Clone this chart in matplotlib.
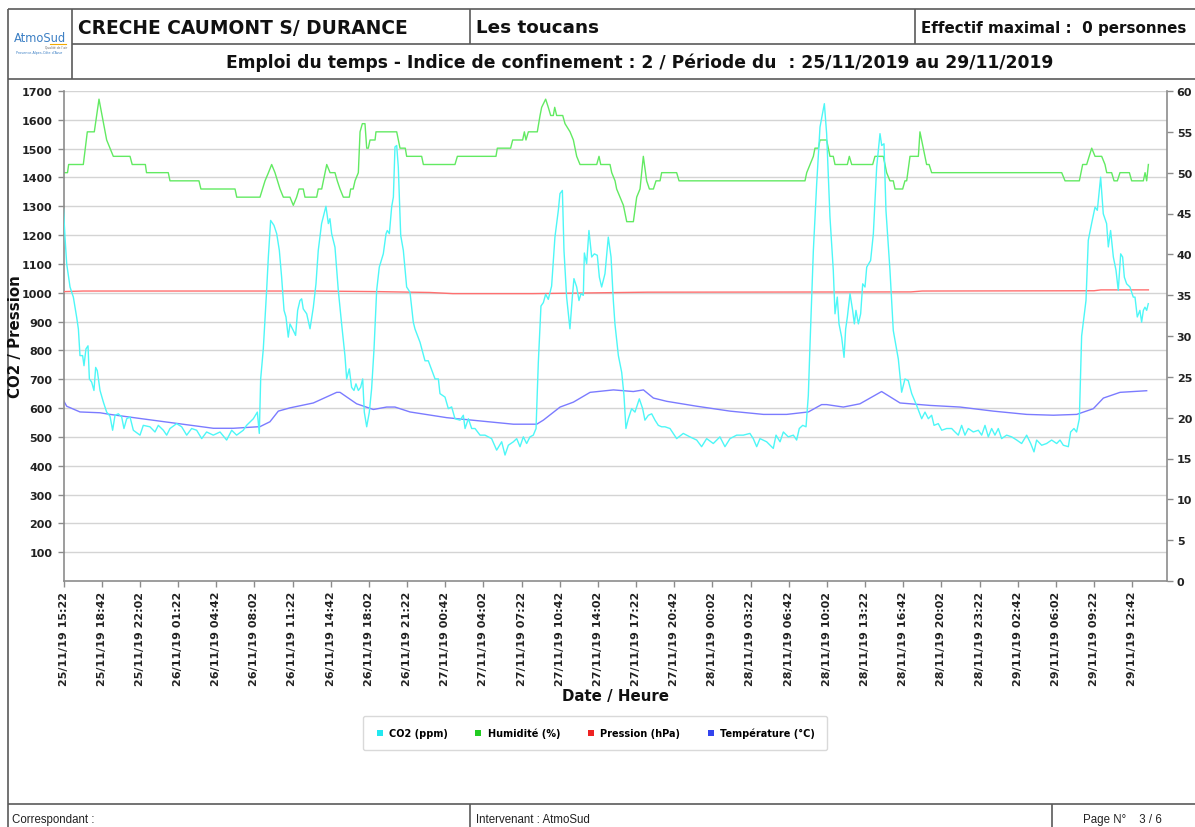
import matplotlib
matplotlib.use("Agg")
import matplotlib.pyplot as plt
from matplotlib.lines import Line2D
import pandas as pd

# ---------------- data (hours since 25/11/19 15:22) ----------------
start_time = "25/11/19 15:22"
tick_labels = ["25/11/19 15:22", "25/11/19 18:42", "25/11/19 22:02", "26/11/19 01:22",
               "26/11/19 04:42", "26/11/19 08:02", "26/11/19 11:22", "26/11/19 14:42",
               "26/11/19 18:02", "26/11/19 21:22", "27/11/19 00:42", "27/11/19 04:02",
               "27/11/19 07:22", "27/11/19 10:42", "27/11/19 14:02", "27/11/19 17:22",
               "27/11/19 20:42", "28/11/19 00:02", "28/11/19 03:22", "28/11/19 06:42",
               "28/11/19 10:02", "28/11/19 13:22", "28/11/19 16:42", "28/11/19 20:02",
               "28/11/19 23:22", "29/11/19 02:42", "29/11/19 06:02", "29/11/19 09:22",
               "29/11/19 12:42"]

co2_h = [0, 0.13, 0.28, 0.57, 0.86, 1.15, 1.30, 1.44, 1.67, 1.79, 1.96, 2.14, 2.26, 2.46, 2.66, 2.81,
         2.95, 3.19, 3.48, 3.77, 4.06, 4.29, 4.50, 4.79, 5.08, 5.28, 5.52, 5.81, 6.10, 6.68, 6.97, 7.55,
         7.99, 8.28, 8.72, 9.01, 9.30, 9.88, 10.32, 10.76, 11.19, 11.63, 12.07, 12.50, 13.08, 13.67,
         14.25, 14.69, 15.12, 15.70, 15.99, 16.58, 16.93, 17.10, 17.22, 17.45, 17.74, 17.89, 18.09,
         18.38, 18.62, 18.85, 19.05, 19.26, 19.43, 19.63, 19.78, 20.07, 20.27, 20.45, 20.65, 20.80,
         20.94, 21.24, 21.53, 21.82, 22.05, 22.25, 22.54, 22.92, 23.13, 23.27, 23.42, 23.71, 24.00,
         24.29, 24.58, 24.73, 24.96, 25.16, 25.37, 25.54, 25.75, 25.95, 26.13, 26.27, 26.48, 26.71,
         26.91, 27.12, 27.35, 27.58,
         27.93, 28.17, 28.28, 28.46, 28.66, 28.81, 28.95, 29.10, 29.24, 29.45, 29.68, 29.97, 30.26,
         30.55, 30.70, 31.14, 31.57, 31.86, 32.45, 32.74, 32.88, 33.32, 33.61, 33.90, 34.19, 34.63,
         34.92, 35.07, 35.36, 35.65, 35.94, 36.38, 36.81, 37.39, 37.83, 38.27, 38.56, 38.85, 39.29,
         39.58, 39.87, 40.16, 40.45, 40.74, 41.03, 41.27, 41.47, 41.70, 41.91, 42.11, 42.34, 42.63,
         42.92, 43.22, 43.36, 43.57, 43.71, 43.94, 44.23, 44.44, 44.58, 44.82, 45.02, 45.20, 45.40,
         45.49, 45.69, 45.89, 46.13, 46.36, 46.62, 46.80, 47.00, 47.29, 47.58, 47.82, 48.02, 48.16,
         48.46, 48.75, 48.95, 49.12, 49.33, 49.62, 49.91, 50.29, 50.58, 50.78, 51.08, 51.37, 51.66,
         51.95, 52.24, 52.53, 52.97, 53.55, 54.13, 54.71, 55.30, 55.73, 56.17, 56.75, 57.33, 57.77,
         58.21, 58.79, 59.37, 59.95, 60.24, 60.54,
         60.83, 61.41, 61.99, 62.23, 62.58, 62.87, 63.30, 63.74, 64.03, 64.26, 64.56, 64.85, 65.05,
         65.20, 65.49, 65.78, 66.07, 66.45, 66.65, 66.94, 67.23, 67.38, 67.58, 67.73, 67.96, 68.17,
         68.31, 68.46, 68.69, 68.92, 69.07, 69.21, 69.42, 69.62, 69.80, 70.00, 70.15, 70.49, 70.73,
         71.02, 71.31, 71.46, 71.66, 71.83, 72.18, 72.47, 72.91, 73.20, 73.49, 73.78, 74.08, 74.51,
         74.95, 75.24, 75.53, 75.82, 76.03, 76.40, 76.70, 77.13, 77.57, 77.86, 78.15, 78.44, 78.73,
         79.02, 79.46, 79.90, 80.19, 80.48, 80.77, 81.06, 81.35, 81.64, 81.93, 82.37, 82.81, 83.25,
         83.68, 84.12, 84.47, 84.76, 84.99, 85.43, 85.86, 86.30, 86.74, 87.03, 87.32, 87.76, 87.96,
         88.25, 88.48, 88.72, 88.92, 89.30, 89.50, 89.79, 90.09, 90.29, 90.58, 90.81, 91.10, 91.25,
         91.45, 91.69, 91.92, 92.12, 92.33, 92.50, 92.65, 92.85, 93.14, 93.43, 93.58, 93.78, 94.01,
         94.16, 94.31, 94.45, 94.60, 94.74]
co2_v = [1290, 1193, 1100, 1020, 985, 915, 874, 782, 782, 747, 805, 816, 701, 690, 661, 741,
         730, 661, 621, 586, 572, 523, 575, 580, 569, 529, 563, 569, 523, 506, 540, 535,
         517, 540, 523, 506, 529, 546, 535, 506, 529, 523, 494, 517, 506, 517,
         489, 523, 506, 523, 540, 563, 586, 512, 701, 805, 1008, 1124, 1251,
         1234, 1205, 1147, 1054, 939, 916, 846, 892, 869, 852, 939, 973, 979,
         944, 927, 875, 950, 1031, 1147, 1240, 1300, 1240, 1257, 1205, 1158, 1008,
         892, 782, 701, 736, 672, 661, 684, 661, 672, 701, 586, 535, 586,
         667, 805, 1008, 1089,
         1135, 1205, 1216, 1205, 1298, 1332, 1506, 1511, 1436, 1199, 1147, 1020, 1002,
         898, 874, 828, 764, 764, 701, 701, 650, 638, 598, 604, 563, 558,
         575, 529, 563, 529, 529, 506, 506, 494, 454, 483, 437, 471, 483,
         494, 466, 500, 477, 500, 506, 529, 759, 954, 966, 995, 977, 1023,
         1193, 1287, 1344, 1355, 1147, 985, 875, 985, 1049, 1020, 973, 997, 991,
         1138, 1101, 1216, 1124, 1135, 1130, 1054, 1020, 1066, 1193, 1124, 973, 892,
         782, 724, 644, 529, 563, 598, 586, 632, 598, 558, 575, 580, 558,
         540, 535, 535, 529, 494, 512, 500, 489, 466, 494, 477, 500, 466,
         494, 506, 506, 512, 494, 466,
         494, 483, 460, 506, 483, 517, 500, 506, 489, 529, 540, 535, 644,
         823, 1147, 1378, 1575, 1656, 1552, 1263, 1078, 927, 985, 892, 846, 776,
         874, 916, 997, 939, 892, 939, 892, 927, 1031, 1020, 1089, 1112, 1205,
         1436, 1552, 1511, 1517, 1286, 1078, 869, 770, 655, 701, 695, 650, 609,
         563, 586, 563, 575, 540, 546, 523, 529, 529, 517, 506, 540, 506,
         529, 517, 523, 506, 540, 500, 529, 506, 529, 494, 506, 500, 489,
         477, 506, 477, 448, 489, 471, 477, 489, 477, 489, 471, 466, 517,
         529, 517, 563, 850, 973, 1182, 1240, 1297, 1286, 1401, 1274, 1240, 1159,
         1216, 1124, 1078, 1008, 1135, 1124, 1054, 1031, 1020, 985, 985, 916, 939,
         898, 939, 950, 939, 962]

hum_h = [0, 0.35, 0.45, 1.73, 2.08, 2.69, 3.10, 3.77, 4.06, 4.35, 5.81, 6.00, 7.15, 7.25, 9.15, 9.30,
         11.83, 12.00, 14.98, 15.13, 17.16, 17.60, 17.90, 18.18, 18.47, 18.91, 19.20, 19.78, 20.07,
         20.36, 20.57, 20.94, 21.09, 22.11, 22.25, 22.55, 22.84, 22.99, 23.28, 23.71, 23.91, 24.15,
         24.44, 24.96, 25.08, 25.30, 25.46, 25.75, 25.90, 26.10, 26.33, 26.48, 26.62, 26.77, 27.21,
         27.29, 29.10, 29.39, 29.85, 29.97, 31.28, 31.43, 34.19, 34.40, 37.77, 37.89, 39.05, 39.23,
         40.10, 40.25, 40.39, 40.60, 41.38, 41.62, 41.76, 42.11, 42.34, 42.55, 42.78, 42.90, 43.07,
         43.60, 43.80, 44.24, 44.53, 44.82, 45.11, 46.57, 46.77, 46.92, 47.73, 47.88, 48.17, 48.31,
         48.60, 48.90, 49.19, 49.77, 50.06, 50.35, 50.64, 50.93, 51.17, 51.52, 51.75, 52.10, 52.24,
         53.55, 53.76, 64.76, 64.91, 65.20, 65.49, 65.63, 65.93, 66.07, 66.65, 66.94, 67.23, 67.38,
         68.46, 68.63, 68.84, 70.67, 70.87, 71.60, 71.89, 72.18, 72.47, 72.62, 73.29, 73.49, 73.64,
         73.93, 74.66, 74.80, 75.09, 75.38, 75.60, 75.82, 87.18, 87.47, 88.72, 89.01, 89.36, 89.80,
         90.09, 90.67, 90.96, 91.11, 91.54, 91.75, 92.04, 92.27, 93.09, 93.29, 94.31, 94.46, 94.60,
         94.75]
hum_v = [50, 50, 51, 51, 55, 55, 59, 54, 53, 52, 52, 51, 51, 50, 50, 49,
         49, 48, 48, 47, 47, 49, 50, 51, 50, 48, 47, 47, 46,
         47, 48, 48, 47, 47, 48, 48, 50, 51, 50, 50, 49, 48,
         47, 47, 48, 48, 49, 50, 55, 56, 56, 53, 53, 54, 54,
         55, 55, 53, 53, 52, 52, 51, 51, 52, 52, 53, 53, 54,
         54, 55, 54, 55, 55, 57, 58, 59, 58, 57, 57, 58, 57,
         57, 56, 55, 54, 52, 51, 51, 52, 51, 51, 50, 49, 48,
         47, 46, 44, 44, 47, 48, 52, 49, 48, 48, 49, 49, 50,
         50, 49, 49, 50, 51, 52, 53, 53, 54, 54, 52, 52, 51,
         51, 52, 51, 51, 52, 52, 50, 49, 49, 48, 48, 49, 49,
         52, 52, 55, 53, 51, 51, 50, 50, 49, 49, 51, 51, 53,
         52, 52, 51, 50, 50, 49, 49, 50, 50, 49, 49, 50, 49,
         51]

temp_h = [0, 0.28, 1.44, 3.19, 4.06, 6.68, 9.88, 13.09, 14.83, 17.16, 18.03, 18.76, 19.78, 21.82,
          23.86, 24.15, 25.60, 27.06, 28.22, 28.95, 30.26, 33.47, 36.38, 39.29, 41.33, 41.91, 43.37,
          44.53, 45.99, 48.03, 49.77, 50.65, 51.52, 52.69, 55.31, 58.22, 61.13, 63.16, 65.05, 66.21,
          66.65, 68.11, 69.56, 71.45, 73.06, 75.68, 78.30, 81.21, 84.12, 86.45, 88.49, 89.94, 90.82,
          92.27, 94.60]
temp_v = [22.1, 21.4, 20.7, 20.6, 20.4, 19.9, 19.3, 18.7, 18.7, 18.9, 19.5, 20.8, 21.2, 21.8,
          23.1, 23.1, 21.7, 21.0, 21.3, 21.3, 20.7, 20.0, 19.6, 19.2, 19.2, 19.7, 21.3,
          21.9, 23.1, 23.4, 23.2, 23.4, 22.4, 22.0, 21.4, 20.8, 20.4, 20.4, 20.7, 21.6,
          21.6, 21.3, 21.7, 23.2, 21.8, 21.5, 21.3, 20.8, 20.4, 20.3, 20.4, 21.1, 22.4,
          23.1, 23.3]

pres_h = [0, 1.7, 22, 27.5, 32, 34, 41, 45, 51, 74, 75, 90, 90.6, 94.75]
pres_v = [1004, 1006, 1006, 1004, 1001, 997, 997, 999, 1002, 1003, 1006, 1007, 1010, 1010]

series_names = ["CO2 (ppm)", "Humidité (%)", "Pression (hPa)", "Température (°C)"]
line_colors = ["#4df7f7", "#62ea62", "#ff7070", "#7b7bff"]
legend_colors = ["#22e8f0", "#22cc22", "#ee2222", "#3344ee"]

# ---------------- figure ----------------
W, H = 1195, 828
fig = plt.figure(figsize=(W / 100, H / 100), dpi=100)
fig.patch.set_facecolor("white")

# page overlay in pixel coordinates
page = fig.add_axes([0, 0, 1, 1], zorder=0)
page.set_xlim(0, W)
page.set_ylim(H, 0)
page.axis("off")
lc = "#5a5a5a"
def hline(y, x0, x1, lw=1.2):
    page.plot([x0, x1], [y, y], color=lc, lw=lw, solid_capstyle="butt")
def vline(x, y0, y1, lw=1.2):
    page.plot([x, x], [y0, y1], color=lc, lw=lw, solid_capstyle="butt")

hline(10, 8, W)
hline(45, 72, W)
hline(80, 8, W)
vline(8, 10, H)
vline(72, 10, 80)
vline(470, 10, 45)
vline(915, 10, 45)
hline(805, 8, W)
vline(470, 805, H)
vline(1052, 805, H)

bold = dict(fontweight="bold", color="#111111", family="DejaVu Sans")
page.text(78, 28, "CRECHE CAUMONT S/ DURANCE", fontsize=13.4, va="center", ha="left", **bold)
page.text(476, 28, "Les toucans", fontsize=13.2, va="center", ha="left", **bold)
page.text(921, 28, "Effectif maximal :  0 personnes", fontsize=10.9, va="center", ha="left", **bold)
page.text(640, 63, "Emploi du temps - Indice de confinement : 2 / Période du  : 25/11/2019 au 29/11/2019",
          fontsize=12.3, va="center", ha="center", **bold)

# logo
page.text(40, 38, "AtmoSud", fontsize=8.3, color="#3b7fc4", ha="center", va="center")
page.plot([50, 66], [44.5, 44.5], color="#f2a900", lw=0.8)
page.text(56, 47.5, "Qualité de l'air", fontsize=2.2, color="#666666", ha="center", va="center")
page.text(39, 53, "Provence-Alpes-Côte d'Azur", fontsize=2.4, color="#3b7fc4", ha="center", va="center")

foot = dict(fontsize=8.3, color="#222222", va="center", ha="left", family="Liberation Sans")
page.text(12, 820, "Correspondant :", **foot)
page.text(476, 820, "Intervenant : AtmoSud", **foot)
page.text(1083, 820, "Page N°    3 / 6", **foot)

# ---------------- main axes ----------------
x0, x1 = 63.5, 1167
y_top, y_bot = 92, 582
ax = fig.add_axes([x0 / W, 1 - y_bot / H, (x1 - x0) / W, (y_bot - y_top) / H], zorder=2)
ax.patch.set_alpha(0)
ax2 = ax.twinx()
ax2.set_zorder(1)
ax2.patch.set_facecolor("white")
ax.set_zorder(2)

t0 = pd.to_datetime(start_time, format="%d/%m/%y %H:%M")
tick_pos = [(pd.to_datetime(s, format="%d/%m/%y %H:%M") - t0).total_seconds() / 3600 for s in tick_labels]
x_end = (x1 - x0) / 11.45

ax.set_xlim(0, x_end)
ax.set_ylim(0, 1700)
ax2.set_ylim(0, 60)

for yv in range(100, 1800, 100):
    ax2.plot([0, x_end], [yv * 60 / 1700] * 2, color="#d4d4d4", lw=1.0, zorder=0)

ax2.plot(hum_h, hum_v, color=line_colors[1], lw=1.0, zorder=3)
ax2.plot(temp_h, temp_v, color=line_colors[3], lw=1.0, zorder=3)
ax.plot(pres_h, pres_v, color=line_colors[2], lw=1.0, zorder=3)
ax.plot(co2_h, co2_v, color=line_colors[0], lw=1.0, zorder=4)

tick_font = dict(fontsize=8.0, fontweight="bold", color="#222222", family="DejaVu Sans")
ax.set_yticks(range(100, 1800, 100))
ax.set_yticklabels([str(v) for v in range(100, 1800, 100)], **tick_font)
ax.set_xticks(tick_pos)
ax.set_xticklabels(tick_labels, rotation=90, **tick_font)
ax2.set_yticks(range(0, 65, 5))
ax2.set_yticklabels([str(v) for v in range(0, 65, 5)], **tick_font)

spc = "#8c8c8c"
for a in (ax, ax2):
    a.spines["top"].set_visible(False)
ax.spines["right"].set_visible(False)
ax2.spines["left"].set_visible(False)
ax2.spines["bottom"].set_visible(False)
ax.spines["left"].set_color(spc)
ax.spines["bottom"].set_color(spc)
ax2.spines["right"].set_color(spc)
for s in ("left", "bottom"):
    ax.spines[s].set_linewidth(1.2)
ax2.spines["right"].set_linewidth(1.2)
ax.tick_params(axis="y", length=4, width=1, color=spc, pad=4)
ax.tick_params(axis="x", length=4, width=1, color=spc, pad=3)
ax2.tick_params(axis="y", length=4, width=1, color=spc, pad=3)

fig.text(16 / W, 1 - 337 / H, "CO2 / Pression", rotation=90, fontsize=10.8, ha="center", va="center", **bold)
fig.text(615 / W, 1 - 697 / H, "Date / Heure", fontsize=10.8, ha="center", va="center", **bold)

handles = [Line2D([], [], marker="s", linestyle="None", markersize=4, color=c, markeredgewidth=0)
           for c in legend_colors]
leg = fig.legend(handles, series_names, loc="center", bbox_to_anchor=(595 / W, 1 - 734 / H), ncol=4,
                 prop=dict(size=7, weight="bold", family="DejaVu Sans"), frameon=True, fancybox=True,
                 borderpad=1.25, handletextpad=0.5, columnspacing=2.6, handlelength=1.0)
leg.get_frame().set_edgecolor("#d0d0d0")
leg.get_frame().set_linewidth(1.0)

fig.savefig("out.png", dpi=100, facecolor="white")
